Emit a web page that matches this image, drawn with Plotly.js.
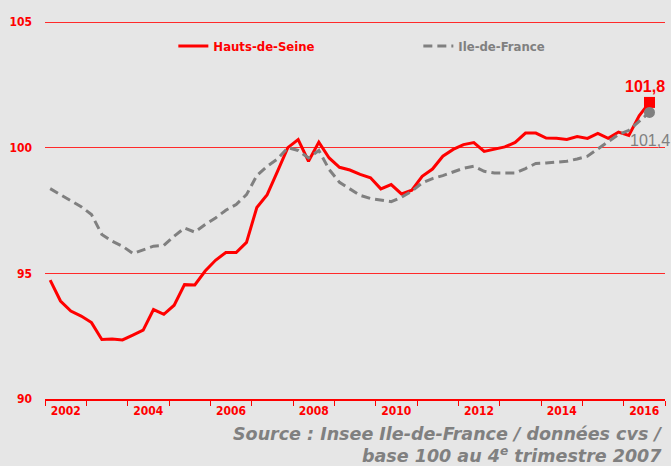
<!DOCTYPE html>
<html><head><meta charset="utf-8">
<script src="https://cdn.plot.ly/plotly-3.0.1.min.js"></script>
<style>html,body{margin:0;padding:0;background:#e6e6e6;}#chart{width:671px;height:466px;}</style>
</head><body><div id="chart"></div>
<script>
// Quarterly index, base 100 = 4th quarter 2007 (2002 Q1 .. 2016 Q3)
const firstYear = 2002;
const lastYear = 2016;
const hautsDeSeine = [
  94.73, 93.90, 93.50, 93.30,
  93.04, 92.37, 92.39, 92.35,
  92.54, 92.74, 93.56, 93.37,
  93.73, 94.55, 94.54, 95.09,
  95.52, 95.83, 95.83, 96.23,
  97.62, 98.13, 99.06, 100.00,
  100.32, 99.46, 100.22, 99.59,
  99.22, 99.11, 98.94, 98.80,
  98.36, 98.53, 98.16, 98.31,
  98.86, 99.15, 99.66, 99.93,
  100.12, 100.20, 99.85, 99.95,
  100.03, 100.21, 100.58, 100.58,
  100.38, 100.37, 100.33, 100.44,
  100.37, 100.57, 100.37, 100.62,
  100.49, 101.27, 101.80
];
const ileDeFrance = [
  98.37, 98.12, 97.87, 97.65,
  97.34, 96.55, 96.28, 96.08,
  95.79, 95.95, 96.08, 96.11,
  96.48, 96.80, 96.64, 96.94,
  97.20, 97.51, 97.74, 98.13,
  98.89, 99.26, 99.55, 100.00,
  99.89, 99.59, 99.89, 99.13,
  98.62, 98.36, 98.10, 97.98,
  97.91, 97.85, 98.03, 98.27,
  98.60, 98.77, 98.89, 99.05,
  99.18, 99.26, 99.06, 98.99,
  98.99, 98.99, 99.17, 99.37,
  99.39, 99.42, 99.46, 99.55,
  99.66, 99.95, 100.25, 100.52,
  100.69, 101.04, 101.40
];
const yearLabels = ['2002','2004','2006','2008','2010','2012','2014','2016'];
const yTicks = [90, 95, 100, 105];
const seriesNames = ['Hauts-de-Seine', 'Ile-de-France'];
const sourceLines = ['Source : Insee Ile-de-France / données cvs /', 'base 100 au 4<sup>e</sup> trimestre 2007'];

const RED = '#ff0000';
const GRAY = '#808080';
const FONT = 'DejaVu Sans Condensed, DejaVu Sans, sans-serif';
const SRC_FONT = 'DejaVu Sans, sans-serif';

// x position of each quarter: middle of its quarter within the year band
const xq = hautsDeSeine.map((_, i) => firstYear + (i + 0.5) / 4);
const n = xq.length;
const fmt = v => v.toFixed(1).replace('.', ',');

const traces = [
  {x: xq, y: hautsDeSeine, type: 'scatter', mode: 'lines',
   name: '<span style="color:' + RED + '">' + seriesNames[0] + '</span>',
   line: {color: RED, width: 3}},
  {x: xq, y: ileDeFrance, type: 'scatter', mode: 'lines',
   name: '<span style="color:' + GRAY + '">' + seriesNames[1] + '</span>',
   line: {color: GRAY, width: 3, dash: '9px,5px'}},
  {x: [xq[n-1]], y: [hautsDeSeine[n-1]], type: 'scatter', mode: 'markers', showlegend: false,
   marker: {symbol: 'square', size: 11, color: RED}},
  {x: [xq[n-1]], y: [ileDeFrance[n-1]], type: 'scatter', mode: 'markers', showlegend: false,
   marker: {symbol: 'circle', size: 11, color: GRAY}}
];

const layout = {
  width: 671, height: 466,
  paper_bgcolor: '#e6e6e6', plot_bgcolor: '#e6e6e6',
  margin: {l: 45, r: 6, t: 21, b: 67, autoexpand: false},
  showlegend: true,
  legend: {orientation: 'h', x: 0.207, xanchor: 'left', y: 0.934, yanchor: 'middle',
           bgcolor: 'rgba(0,0,0,0)', entrywidth: 200, entrywidthmode: 'pixels',
           font: {family: FONT, size: 13, weight: 'bold', color: RED}},
  xaxis: {
    range: [firstYear, lastYear + 1],
    tickmode: 'array',
    tickvals: yearLabels.map(y => +y + 0.5),
    ticktext: yearLabels,
    ticks: '', showgrid: false, zeroline: false,
    showline: true, linecolor: RED, linewidth: 1.5,
    tickfont: {family: FONT, size: 12, weight: 'bold', color: RED},
    minor: {tick0: firstYear, dtick: 1, ticks: 'outside', ticklen: 5, tickcolor: RED, tickwidth: 1, showgrid: false},
    fixedrange: true
  },
  yaxis: {
    range: [90, 105.04],
    tickmode: 'array', tickvals: yTicks, ticktext: yTicks.map(String),
    showgrid: true, gridcolor: '#ff2a2a', gridwidth: 1,
    zeroline: false, showline: false, ticks: '',
    ticklabelstandoff: 12,
    tickfont: {family: FONT, size: 12, weight: 'bold', color: RED},
    fixedrange: true
  },
  annotations: [
    {x: xq[n-1], y: hautsDeSeine[n-1], xref: 'x', yref: 'y', text: fmt(hautsDeSeine[n-1]),
     showarrow: false, xanchor: 'center', yanchor: 'bottom', xshift: -5, yshift: 5,
     font: {family: 'Liberation Sans, Arial, sans-serif', size: 16, weight: 'bold', color: RED}},
    {x: xq[n-1], y: ileDeFrance[n-1], xref: 'x', yref: 'y', text: fmt(ileDeFrance[n-1]),
     showarrow: false, xanchor: 'center', yanchor: 'top', xshift: 0, yshift: -18,
     font: {family: 'Liberation Sans, Arial, sans-serif', size: 16, color: GRAY}},
    {x: 1, y: -0.0955, xref: 'paper', yref: 'paper', xanchor: 'right', yanchor: 'middle', align: 'right',
     showarrow: false, xshift: -2, yshift: 1, borderpad: 0, text: '<i>' + sourceLines[0] + '</i>',
     font: {family: SRC_FONT, size: 17.5, weight: 'bold', color: GRAY}},
    {x: 1, y: -0.1538, xref: 'paper', yref: 'paper', xanchor: 'right', yanchor: 'middle', align: 'right',
     showarrow: false, xshift: -2, yshift: 2, borderpad: 0, text: '<i>' + sourceLines[1] + '</i>',
     font: {family: SRC_FONT, size: 17.5, weight: 'bold', color: GRAY}}
  ]
};

Plotly.newPlot('chart', traces, layout, {displayModeBar: false, staticPlot: true});
</script>
</body></html>
